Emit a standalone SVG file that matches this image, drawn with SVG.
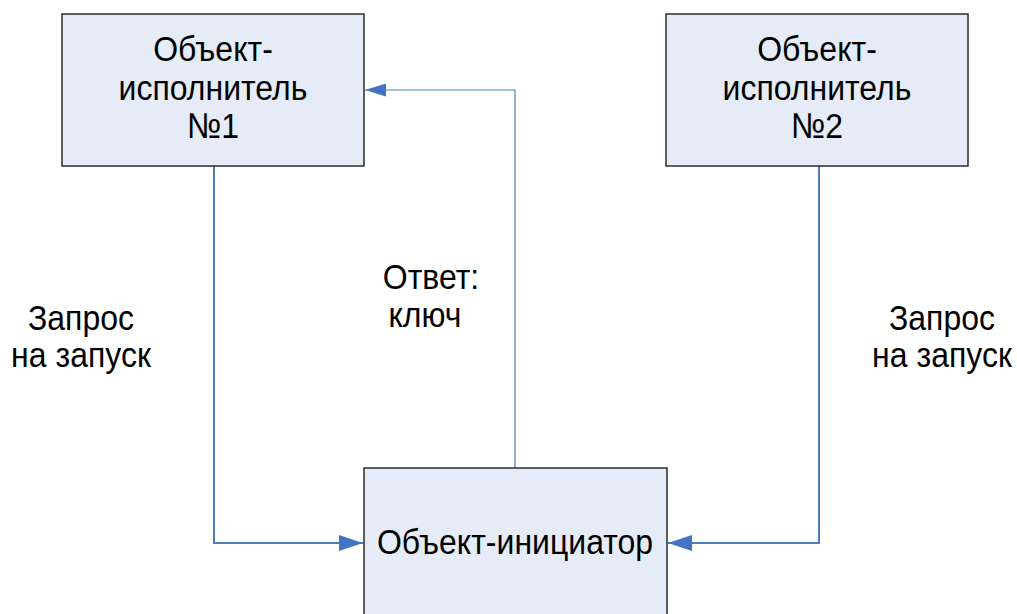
<svg xmlns="http://www.w3.org/2000/svg" width="1017" height="614" viewBox="0 0 1017 614">
<style>
.box{fill:#e6ecf7;stroke:#2b2b2b;stroke-width:1.5}
.t{font-family:"Liberation Sans",Arial,sans-serif;font-size:32px;fill:#000;text-anchor:middle}
.c{fill:none;stroke:#4a7ebb;stroke-width:2}
.c1{fill:none;stroke:#4a7ebb;stroke-width:1.2}
</style>
<defs>
<marker id="ah" markerWidth="24" markerHeight="16" refX="24" refY="8" orient="auto" markerUnits="userSpaceOnUse">
<path d="M0,0 L24,8 L0,16 Z" fill="#4472c4"/>
</marker>
<marker id="ah2" markerWidth="21" markerHeight="13" refX="21" refY="6.5" orient="auto" markerUnits="userSpaceOnUse">
<path d="M0,0 L21,6.5 L0,13 Z" fill="#4472c4"/>
</marker>
</defs>
<rect width="1017" height="614" fill="#fff"/>
<g id="connectors">
<path class="c" d="M214,166 V543 H363" marker-end="url(#ah)"/>
<path class="c" d="M819,166 V543 H668" marker-end="url(#ah)"/>
<path class="c1" d="M515,468 V90 H365" marker-end="url(#ah2)"/>
</g>
<g id="node1">
<rect class="box" x="62" y="14" width="302" height="152"/>
<text class="t" transform="translate(213,61) scale(1,1.12)">Объект-</text>
<text class="t" transform="translate(213,100) scale(1,1.12)">исполнитель</text>
<text class="t" transform="translate(213,138) scale(1,1.12)">№1</text>
</g>
<g id="node2">
<rect class="box" x="666" y="14" width="302" height="152"/>
<text class="t" transform="translate(817,61) scale(1,1.12)">Объект-</text>
<text class="t" transform="translate(817,100) scale(1,1.12)">исполнитель</text>
<text class="t" transform="translate(817,138) scale(1,1.12)">№2</text>
</g>
<g id="node3">
<rect class="box" x="364" y="468" width="303" height="160"/>
<text class="t" transform="translate(515,554) scale(1,1.12)">Объект-инициатор</text>
</g>
<g id="labels">
<text class="t" transform="translate(81,330) scale(1,1.12)">Запрос</text>
<text class="t" transform="translate(81,367) scale(1,1.12)">на запуск</text>
<text class="t" transform="translate(431,289) scale(1,1.12)">Ответ:</text>
<text class="t" transform="translate(425,327) scale(1,1.12)">ключ</text>
<text class="t" transform="translate(942,330) scale(1,1.12)">Запрос</text>
<text class="t" transform="translate(942,367) scale(1,1.12)">на запуск</text>
</g>
</svg>
